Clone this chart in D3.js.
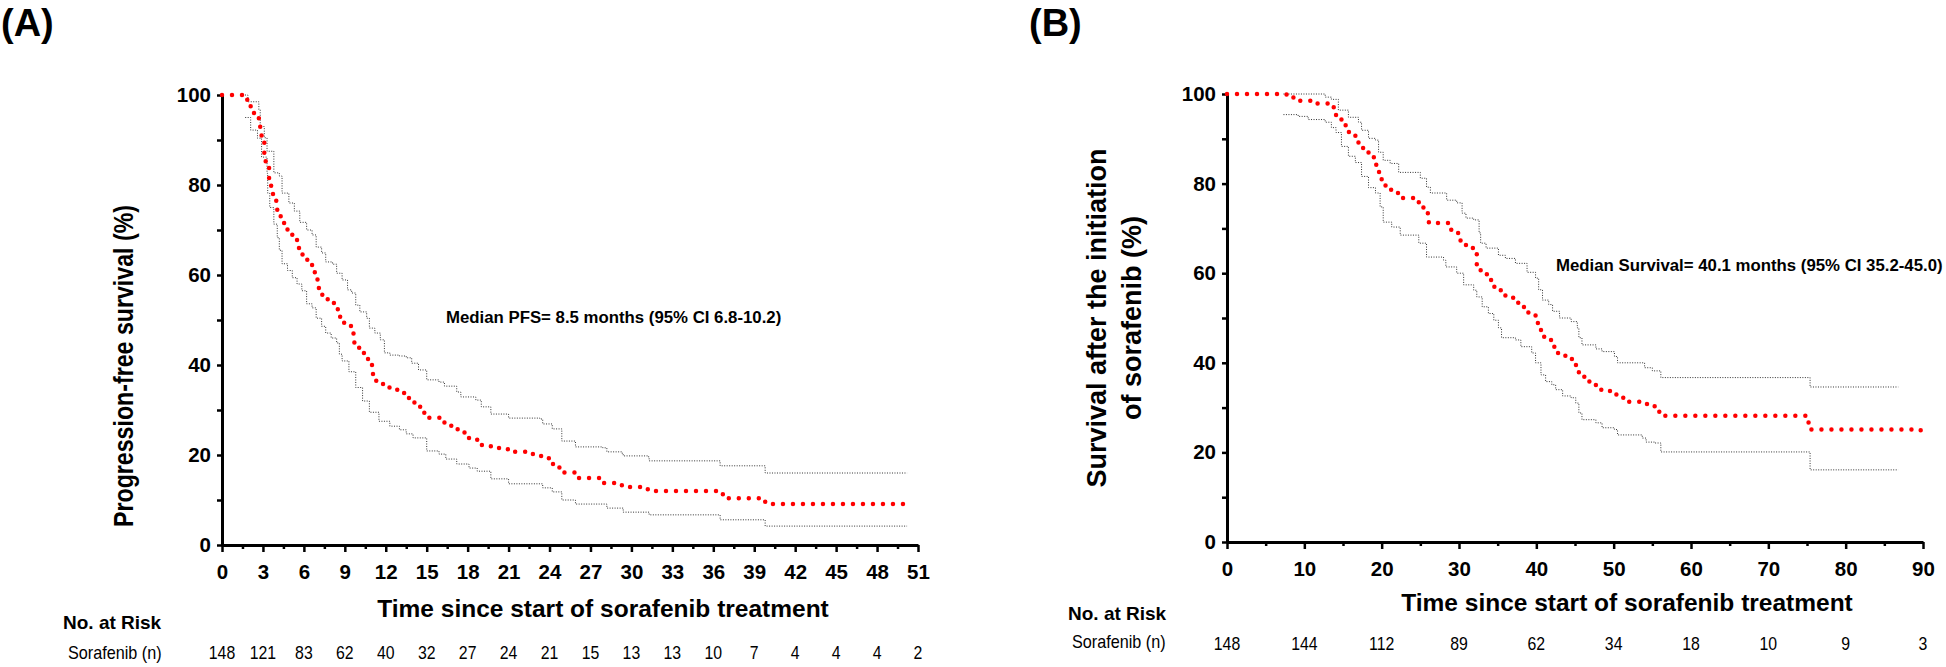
<!DOCTYPE html>
<html><head><meta charset="utf-8">
<script src="https://cdn.jsdelivr.net/npm/d3@7"></script>
<style>
body{margin:0;background:#fff;}
text{font-family:"Liberation Sans",Arial,sans-serif;fill:#000;}
</style></head><body>
<svg id="chart" width="1946" height="667"></svg>
<script>
// ---------- Panel A data (progression-free survival) ----------
const pfsTicks = [0,3,6,9,12,15,18,21,24,27,30,33,36,39,42,45,48,51];
const pfsAtRisk = [148,121,83,62,40,32,27,24,21,15,13,13,10,7,4,4,4,2];
const pfsCurve = [[0,100],[1.5,100],[1.85,98],[2.1,96],[2.35,95],[2.7,94],[2.8,92],[2.9,90],[3.1,86],[3.2,84],[3.45,80],[3.6,78],[3.95,76.5],[4.05,74],[4.3,72.7],[4.55,71],[4.8,69.5],[5.15,68],[5.5,66],[5.9,63.5],[6.25,62.7],[6.6,61.3],[6.8,59],[7.1,57],[7.35,55],[7.6,54.6],[8,53.8],[8.2,52.4],[8.6,50.7],[8.95,49.3],[9.45,47],[9.7,44.7],[10.05,43.3],[10.4,41.8],[10.7,40],[11,38],[11.3,36.5],[11.8,35],[12.5,34.5],[13,33.8],[13.5,33],[13.7,32.2],[14.1,31.3],[14.3,30.7],[14.6,29.4],[15,28.3],[16,27.6],[16.3,27],[16.8,26.2],[17.2,25.7],[17.3,25],[17.8,24.2],[18.1,23.7],[18.7,23.3],[19,22.2],[19.7,21.6],[20.3,21.3],[21,20.7],[22.4,20.2],[23.3,19.8],[23.6,19.3],[24,18.7],[24.1,18],[24.6,17.6],[24.7,17.2],[24.9,16.1],[26,14.9],[27.9,13.8],[29.3,13.1],[29.9,12.9],[31.2,12],[36.3,11.3],[36.8,10.4],[39.6,9.6],[40.1,9.1],[50.3,9.1]];
const pfsUpper = [[1.5,100],[1.9,98.5],[2.7,96.7],[2.8,93],[3.1,90.5],[3.3,87.5],[3.8,82.7],[4.2,82],[4.4,78.2],[4.9,76],[5.3,74.2],[5.7,71.7],[6.2,70],[6.6,68.9],[6.9,66.2],[7.3,64.9],[7.6,62.9],[8.1,62.4],[8.4,60.4],[8.8,58.9],[9.2,56.7],[9.5,56],[9.8,53.3],[10.1,51.8],[10.6,50.4],[10.8,48.2],[11.2,47.1],[11.6,45.6],[11.9,42.7],[12.3,42.2],[13,42],[13.5,41.6],[13.9,40.4],[14.4,38.9],[15,36.7],[15.9,36.2],[16.3,35.3],[17.2,34],[17.5,32.9],[18.6,32.2],[19,30.7],[19.7,29.1],[21,28.2],[23.3,28],[23.5,26.9],[24.2,25.8],[24.9,23.1],[25.9,21.8],[27.9,21.6],[28.2,20.7],[29.3,20.4],[29.4,19.8],[31.2,19.6],[31.3,18.7],[36.3,18.7],[36.5,17.6],[39.6,17.6],[39.8,16],[50.2,16]];
const pfsLower = [[1.7,95],[2.1,92.2],[2.6,90.4],[2.9,86.2],[3.3,82.6],[3.35,78.2],[3.5,75],[3.8,71.3],[4.05,68.3],[4.2,65.5],[4.4,62.5],[4.8,61],[5.15,59.4],[5.5,58],[5.85,56.5],[6.2,53.6],[6.6,52.7],[6.9,50.4],[7.3,48.6],[7.6,47.1],[8,46],[8.4,44.9],[8.6,42.4],[8.8,40.9],[9.3,38.5],[9.8,35],[10.3,32],[10.8,29.5],[11.5,27.5],[12.3,26.4],[13,25.6],[13.5,24.7],[14,23.8],[15,20.9],[15.9,20.2],[16.4,19.1],[17.2,18],[18.1,17.1],[18.7,16.4],[19.7,14.7],[21,13.6],[23.3,13.6],[23.5,12.7],[24.2,11.8],[24.9,10],[25.9,9.1],[27.9,9.1],[28.2,8.2],[29.4,7.3],[31.3,6.7],[36.3,6.7],[36.5,5.6],[39.6,5.6],[39.8,4.2],[50.2,4.2]];

// ---------- Panel B data (overall survival) ----------
const osTicks = [0,10,20,30,40,50,60,70,80,90];
const osAtRisk = [148,144,112,89,62,34,18,10,9,3];
const osCurve = [[0,100],[7,100],[7.7,99.2],[8.8,98.5],[10.9,97.9],[13.1,97.2],[13.8,96.4],[14.1,95.2],[14.8,93],[15.4,91.5],[16.6,90.4],[17,89],[17.6,87],[18.3,85.9],[19.2,84.8],[19.3,82.6],[20,80.8],[20.5,78.6],[21.3,77.9],[22.2,76.8],[24.1,76.5],[24.8,74.8],[25.4,73.4],[26.1,71.4],[26.7,71.2],[28.7,69.7],[29.7,69],[30.2,67],[30.9,65.6],[31.9,64.5],[32.3,61.8],[32.8,60],[33.6,58.5],[34.5,57],[35.4,55.6],[36,54.5],[37.5,53.4],[37.7,52.5],[38.4,52],[38.8,51.2],[39.9,50.3],[40.1,49.2],[40.2,47.8],[40.6,46.7],[40.7,45.8],[41.4,45.4],[41.9,44.5],[42,43.6],[42.7,42.2],[43.6,41.6],[44.5,41.1],[44.6,40.7],[45.1,39.5],[45.5,37.8],[45.8,36.9],[46.4,35.8],[47.1,35.5],[47.7,34.6],[48.4,33.7],[49.8,33.3],[50.1,32.9],[50.5,32.2],[51.4,31.3],[53.7,30.8],[54.9,30.4],[55.3,29.1],[55.9,28.2],[75.2,26],[75.4,25.1],[89.7,24.8]];
const osUpper = [[7.3,100],[12.7,99.3],[13.5,98.8],[14.4,96.4],[15.7,94.8],[17,93.7],[17.4,91.9],[18.3,90.1],[19.2,89.7],[19.6,87],[20.2,85.2],[21.1,84.5],[22.2,82.5],[25,81.2],[25.8,79.2],[26.3,77.9],[28.4,76.3],[29.7,75.7],[30.4,73.4],[30.9,72.3],[31.9,71.9],[32.6,69],[32.8,66.7],[33.5,65.6],[35.1,64],[36,63.3],[37.3,62.2],[38.8,60.2],[39.9,58.9],[40.3,56.3],[40.8,54],[41.6,53],[42.1,51.5],[43,50],[44.5,49.2],[45.3,47.8],[45.5,45.6],[45.9,44],[47.7,43.1],[48.5,42.5],[50.1,41.4],[50.5,40],[54,38.9],[55,38.2],[56.1,36.7],[75.4,34.6],[86.8,34.6]];
const osLower = [[7.3,95.4],[9.2,95],[10.5,94.3],[12.7,93.7],[13.5,92.5],[14.1,91.4],[14.8,88.3],[15.7,86.1],[16.6,84.7],[17.4,81.6],[18.3,79.1],[19.2,77.9],[19.8,74.8],[20.2,71.4],[21.3,70.3],[22.4,68.5],[24.8,66.7],[25.8,63.6],[28,62.9],[28.3,61.4],[29.7,60],[30.6,57.4],[31.9,56.2],[32.3,54.7],[33,52.5],[33.8,51],[34.5,49.5],[35.1,47.8],[35.5,45.6],[37.3,45.1],[38,43.6],[39.4,42.2],[39.9,40],[40.6,37.3],[41.2,35.8],[42,35.1],[42.5,34],[43.4,32.6],[44.5,32.2],[45.1,31],[45.5,28.8],[45.9,27.3],[47.7,26.6],[48.5,25.5],[50.1,25.1],[50.5,23.9],[53.7,23.2],[54.2,22.3],[55.3,22.1],[56.1,20.1],[75.4,16.1],[86.8,16.1]];

const yTicks = [0,20,40,60,80,100];
const yMinor = [10,30,50,70,90];
const xLabel = "Time since start of sorafenib treatment";

const svg = d3.select("#chart");
const FONT = '"Liberation Sans",Arial,sans-serif';

function panel(cfg){
  const g = svg.append("g");
  const x = d3.scaleLinear().domain([0, cfg.xMax]).range([cfg.x0, cfg.x1]);
  const y = d3.scaleLinear().domain([0,100]).range([cfg.y0, cfg.y1]);

  const xAxisMinor = d3.axisBottom(x).tickValues(cfg.xMinor).tickSize(4).tickFormat("");
  g.append("g").attr("transform",`translate(0,${cfg.y0})`).call(xAxisMinor)
    .call(s=>{s.select(".domain").remove(); s.selectAll("line").attr("stroke","#000").attr("stroke-width",2.5);});
  const yAxisMinor = d3.axisLeft(y).tickValues(yMinor).tickSize(5).tickFormat("");
  g.append("g").attr("transform",`translate(${cfg.x0},0)`).call(yAxisMinor)
    .call(s=>{s.select(".domain").remove(); s.selectAll("line").attr("stroke","#000").attr("stroke-width",2.5);});

  const xAxis = d3.axisBottom(x).tickValues(cfg.xTicks).tickSize(7).tickPadding(12).tickSizeOuter(0);
  g.append("g").attr("transform",`translate(0,${cfg.y0})`).call(xAxis)
    .call(s=>{
      s.select(".domain").attr("stroke","#000").attr("stroke-width",3);
      s.selectAll("line").attr("stroke","#000").attr("stroke-width",2.5);
      s.selectAll("text").attr("font-family",FONT).attr("font-size",20.5).attr("font-weight","bold").attr("fill","#000");
    });
  const yAxis = d3.axisLeft(y).tickValues(yTicks).tickSize(5).tickPadding(6).tickSizeOuter(0);
  g.append("g").attr("transform",`translate(${cfg.x0},0)`).call(yAxis)
    .call(s=>{
      s.select(".domain").attr("stroke","#000").attr("stroke-width",3);
      s.selectAll("line").attr("stroke","#000").attr("stroke-width",2.5);
      s.selectAll("text").attr("font-family",FONT).attr("font-size",20.5).attr("font-weight","bold").attr("fill","#000");
    });

  const line = d3.line().x(d=>x(d[0])).y(d=>y(d[1])).curve(d3.curveStepAfter);
  [cfg.upper, cfg.lower].forEach(ci=>{
    g.append("path").attr("d", line(ci)).attr("fill","none")
      .attr("stroke","#333").attr("stroke-width",1).attr("stroke-dasharray","1,1.5");
  });
  g.append("path").attr("d", line(cfg.curve)).attr("fill","none")
    .attr("stroke","#ff0000").attr("stroke-width",4.5).attr("stroke-linecap","round")
    .attr("stroke-dasharray","0,10");

  g.append("text").attr("x",cfg.titleX).attr("y",cfg.titleY).attr("text-anchor","middle")
    .attr("font-size",24.5).attr("font-weight","bold").text(xLabel);

  g.append("text").attr("x",cfg.medX).attr("y",cfg.medY).attr("font-size",16.8)
    .attr("font-weight","bold").text(cfg.medText);

  g.append("text").attr("x",cfg.riskX).attr("y",cfg.riskY).attr("font-size",19)
    .attr("font-weight","bold").text("No. at Risk");
  g.append("g").attr("transform",`translate(${cfg.sorX},${cfg.sorY}) scale(0.9,1)`)
    .append("text").attr("font-size",18).text("Sorafenib (n)");
  cfg.xTicks.forEach((t,i)=>{
    g.append("g").attr("transform",`translate(${x(t)},${cfg.numY}) scale(0.88,1)`)
      .append("text").attr("text-anchor","middle").attr("font-size",18).text(cfg.atRisk[i]);
  });
  return g;
}

const pfsMinor = d3.range(1.5, 51, 3);
const osMinor = d3.range(5, 90, 10);

const gA = panel({xMax:51, x0:222, x1:918, y0:545, y1:95, xTicks:pfsTicks, xMinor:pfsMinor,
  curve:pfsCurve, upper:pfsUpper, lower:pfsLower, titleX:603, titleY:617,
  medX:446, medY:323, medText:"Median PFS= 8.5 months (95% CI 6.8-10.2)",
  riskX:63, riskY:629, sorX:68, sorY:659, numY:659, atRisk:pfsAtRisk});
const gB = panel({xMax:90, x0:1227, x1:1923, y0:542, y1:94, xTicks:osTicks, xMinor:osMinor,
  curve:osCurve, upper:osUpper, lower:osLower, titleX:1627, titleY:611,
  medX:1556, medY:271, medText:"Median Survival= 40.1 months (95% CI 35.2-45.0)",
  riskX:1068, riskY:620, sorX:1072, sorY:648, numY:650, atRisk:osAtRisk});

gA.append("text").attr("transform","translate(133,366) rotate(-90)").attr("text-anchor","middle")
  .attr("font-size",28).attr("font-weight","bold")
  .attr("textLength",322).attr("lengthAdjust","spacingAndGlyphs")
  .text("Progression-free survival (%)");
gB.append("text").attr("transform","translate(1106,318) rotate(-90)").attr("text-anchor","middle")
  .attr("font-size",27).attr("font-weight","bold").text("Survival after the initiation");
gB.append("text").attr("transform","translate(1141,318) rotate(-90)").attr("text-anchor","middle")
  .attr("font-size",27).attr("font-weight","bold").text("of sorafenib (%)");

svg.append("text").attr("x",1).attr("y",36).attr("font-size",38).attr("font-weight","bold").text("(A)");
svg.append("text").attr("x",1029).attr("y",36).attr("font-size",38).attr("font-weight","bold").text("(B)");
</script>
</body></html>
